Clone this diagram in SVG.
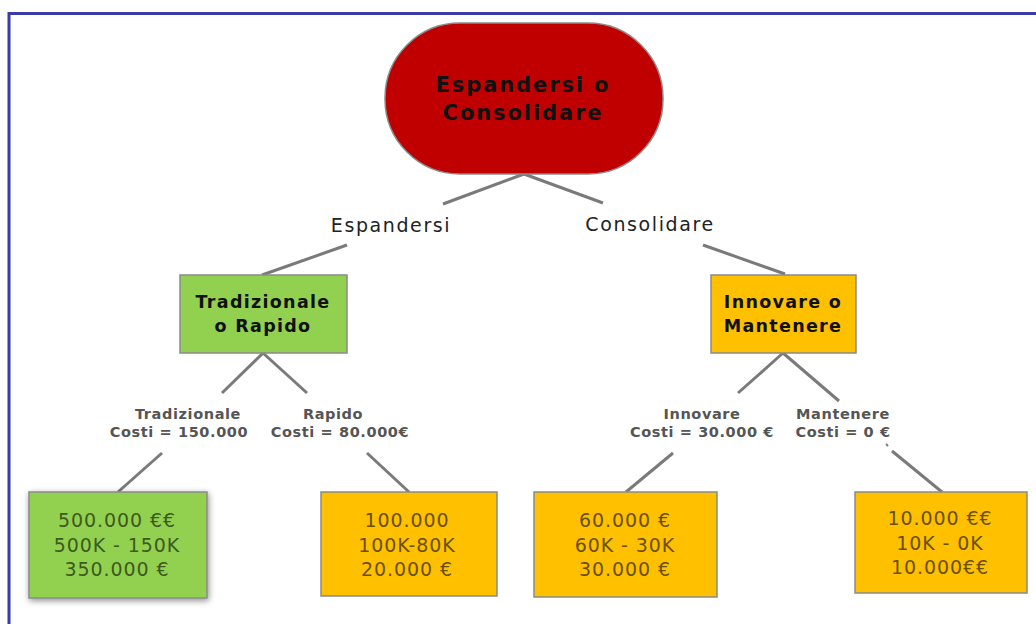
<svg xmlns="http://www.w3.org/2000/svg" width="1036" height="624" viewBox="0 0 1036 624">
<style>
.edge{stroke:#7a7a7a;stroke-width:3;fill:none}
.box{stroke:#8a8a8a;stroke-width:1.5}
.title{font-family:"DejaVu Sans",Verdana,sans-serif;font-weight:bold;fill:#111;text-anchor:middle}
.lbl{font-family:"DejaVu Sans",Verdana,sans-serif;fill:#222;text-anchor:middle;font-size:19px;letter-spacing:1.6px}
.sub{font-family:"DejaVu Sans",Verdana,sans-serif;font-weight:bold;fill:#555;text-anchor:middle;font-size:14.5px;letter-spacing:0.6px}
.val{font-family:"DejaVu Sans",Verdana,sans-serif;text-anchor:middle;font-size:19px;letter-spacing:0.9px}
</style>
<defs>
<filter id="sh" x="-20%" y="-20%" width="140%" height="140%">
<feGaussianBlur in="SourceAlpha" stdDeviation="3"/>
<feOffset dx="1" dy="2"/>
<feComponentTransfer><feFuncA type="linear" slope="0.45"/></feComponentTransfer>
<feMerge><feMergeNode/><feMergeNode in="SourceGraphic"/></feMerge>
</filter>
</defs>
<rect width="1036" height="624" fill="#fff"/>
<path d="M9 624 V13.5 H1036" fill="none" stroke="#3c3ca8" stroke-width="3"/>
<g id="connectors">
<path class="edge" d="M524 174 L443 204"/>
<path class="edge" d="M524 174 L603 203"/>
<path class="edge" d="M347 245 L262 275"/>
<path class="edge" d="M703 245 L785 274"/>
<path class="edge" d="M263 353 L222 393"/>
<path class="edge" d="M263 353 L307 393"/>
<path class="edge" d="M783 353 L738 393"/>
<path class="edge" d="M783 353 L839 401"/>
<path class="edge" d="M162 453 L118 492"/>
<path class="edge" d="M367 453 L409 492"/>
<path class="edge" d="M673 453 L626 492"/>
<path class="edge" d="M892 451 L942 492"/>
<path d="M886 444 L888 446" stroke="#7a7a7a" stroke-width="2"/>
<text class="lbl" x="391" y="232">Espandersi</text>
<text class="lbl" x="650" y="231">Consolidare</text>
<text class="sub" x="188" y="419">Tradizionale</text>
<text class="sub" x="179" y="437">Costi = 150.000</text>
<text class="sub" x="333" y="419">Rapido</text>
<text class="sub" x="340" y="437">Costi = 80.000€</text>
<text class="sub" x="702" y="419">Innovare</text>
<text class="sub" x="702" y="437">Costi = 30.000 €</text>
<text class="sub" x="843" y="419">Mantenere</text>
<text class="sub" x="843" y="437">Costi = 0 €</text>
</g>
<g id="root">
<rect x="385" y="23" width="278" height="151" rx="75" ry="75" fill="#c00000" stroke="#8a8a8a" stroke-width="1.5"/>
<text class="title" x="523" y="92" font-size="21" letter-spacing="1.9">Espandersi o</text>
<text class="title" x="523" y="120" font-size="21" letter-spacing="1.9">Consolidare</text>
</g>
<g id="tradizionale-rapido">
<rect class="box" x="180" y="275" width="167" height="78" fill="#92d050"/>
<text class="title" x="263" y="308" font-size="17.5" letter-spacing="1.3">Tradizionale</text>
<text class="title" x="263" y="332" font-size="17.5" letter-spacing="1.3">o Rapido</text>
</g>
<g id="innovare-mantenere">
<rect class="box" x="711" y="275" width="145" height="78" fill="#ffc000"/>
<text class="title" x="783" y="308" font-size="17.5" letter-spacing="1.3">Innovare o</text>
<text class="title" x="783" y="332" font-size="17.5" letter-spacing="1.3">Mantenere</text>
</g>
<g id="esito-tradizionale">
<rect class="box" x="29" y="492" width="178" height="106" fill="#92d050" filter="url(#sh)"/>
<text class="val" x="117" y="527" fill="#3d5a1e">500.000 €€</text>
<text class="val" x="117" y="552" fill="#3d5a1e">500K - 150K</text>
<text class="val" x="117" y="576" fill="#3d5a1e">350.000 €</text>
</g>
<g id="esito-rapido">
<rect class="box" x="321" y="492" width="176" height="104" fill="#ffc000"/>
<text class="val" x="407" y="527" fill="#6b5000">100.000</text>
<text class="val" x="407" y="552" fill="#6b5000">100K-80K</text>
<text class="val" x="407" y="576" fill="#6b5000">20.000 €</text>
</g>
<g id="esito-innovare">
<rect class="box" x="534" y="492" width="183" height="105" fill="#ffc000"/>
<text class="val" x="625" y="527" fill="#6b5000">60.000 €</text>
<text class="val" x="625" y="552" fill="#6b5000">60K - 30K</text>
<text class="val" x="625" y="576" fill="#6b5000">30.000 €</text>
</g>
<g id="esito-mantenere">
<rect class="box" x="855" y="492" width="172" height="101" fill="#ffc000"/>
<text class="val" x="940" y="525" fill="#6b5000">10.000 €€</text>
<text class="val" x="940" y="550" fill="#6b5000">10K - 0K</text>
<text class="val" x="940" y="574" fill="#6b5000">10.000€€</text>
</g>
</svg>
